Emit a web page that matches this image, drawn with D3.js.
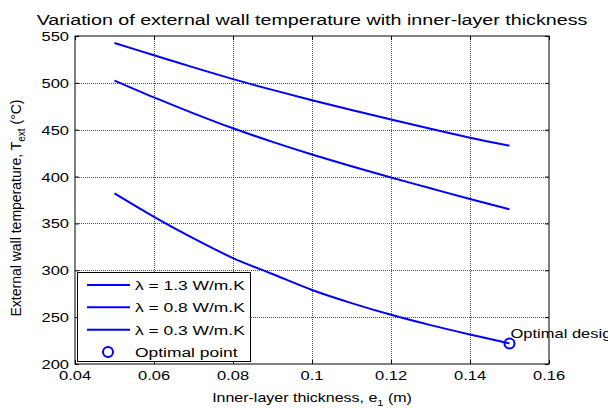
<!DOCTYPE html>
<html>
<head>
<meta charset="utf-8">
<script src="https://cdn.jsdelivr.net/npm/d3@7"></script>
<style>
  body { margin: 0; background: #fff; }
  svg text { font-family: "Liberation Sans", Arial, sans-serif; fill: #000; }
</style>
</head>
<body>
<div id="graph"></div>
<script>
// thickness e1 (m)
var thickness = [0.05, 0.06, 0.07, 0.08, 0.09, 0.10, 0.11, 0.12, 0.13, 0.14, 0.15]

// external wall temperature (°C) per conductivity
var tLambda13 = [542.5, 529.5, 516.5, 504, 492.5, 481.5, 471, 461, 451, 441.5, 433]
var tLambda08 = [502.5, 484.5, 467.5, 451.5, 437, 423.5, 411, 399, 387.5, 376, 365]
var tLambda03 = [382, 357, 334, 313, 296, 279, 265, 252.5, 241.5, 231.5, 222]

var seriesNames = ['λ = 1.3 W/m.K', 'λ = 0.8 W/m.K', 'λ = 0.3 W/m.K']
var optimal = {e: 0.15, t: 222, label: 'Optimal design', legend: 'Optimal point'}

var xTicks = [0.04, 0.06, 0.08, 0.1, 0.12, 0.14, 0.16]
var yTicks = [200, 250, 300, 350, 400, 450, 500, 550]

var W = 608, H = 408
var m = {left: 75, right: 59, top: 36, bottom: 44}
var sx = 1.27 // the picture is stretched sideways, text too

var svg = d3.select('#graph').append('svg')
  .attr('width', W).attr('height', H)

var x = d3.scaleLinear().domain([0.04, 0.16]).range([m.left, W - m.right])
var y = d3.scaleLinear().domain([200, 550]).range([H - m.bottom, m.top])

var blue = '#0000ff'

// stretched text helper
function label(g, px, py, size, anchor, scale){
  return g.append('g').attr('transform', `translate(${px},${py}) scale(${scale || sx},1)`)
    .append('text').attr('text-anchor', anchor || 'start').style('font-size', size + 'px')
}

// grid
var grid = svg.append('g')
grid.selectAll('line.gx').data(xTicks.slice(1, -1)).join('line')
  .attr('x1', d => Math.round(x(d)) + 0.5).attr('x2', d => Math.round(x(d)) + 0.5)
  .attr('y1', y(200)).attr('y2', y(550))
grid.selectAll('line.gy').data(yTicks.slice(1, -1)).join('line')
  .attr('y1', d => Math.round(y(d)) + 0.5).attr('y2', d => Math.round(y(d)) + 0.5)
  .attr('x1', x(0.04)).attr('x2', x(0.16))
grid.selectAll('line')
  .attr('stroke', '#555').attr('stroke-width', 1).attr('stroke-dasharray', '1,1')

// axes with inward ticks, labels drawn separately so they can be stretched
var bottom = svg.append('g').attr('transform', `translate(0,${y(200)})`)
  .call(d3.axisBottom(x).tickValues(xTicks).tickSizeInner(-4).tickSizeOuter(0).tickFormat(''))
var top = svg.append('g').attr('transform', `translate(0,${y(550)})`)
  .call(d3.axisTop(x).tickValues(xTicks).tickSizeInner(-4).tickSizeOuter(0).tickFormat(''))
var left = svg.append('g').attr('transform', `translate(${x(0.04)},0)`)
  .call(d3.axisLeft(y).tickValues(yTicks).tickSizeInner(-4).tickSizeOuter(0).tickFormat(''))
var right = svg.append('g').attr('transform', `translate(${x(0.16)},0)`)
  .call(d3.axisRight(y).tickValues(yTicks).tickSizeInner(-4).tickSizeOuter(0).tickFormat(''))

svg.selectAll('.domain').remove()
svg.selectAll('.tick line').attr('stroke', '#000')

xTicks.forEach(d => label(svg, x(d), y(200) + 16, 13, 'middle').text(+d.toFixed(2)))
yTicks.forEach(d => label(svg, x(0.04) - 6, y(d) + 5, 13, 'end').text(d))

svg.append('rect')
  .attr('x', x(0.04)).attr('y', y(550))
  .attr('width', x(0.16) - x(0.04)).attr('height', y(200) - y(550))
  .attr('fill', 'none').attr('stroke', '#000').attr('stroke-width', 1)

// curves
var line = d3.line()
  .x((d, i) => x(thickness[i]))
  .y(d => y(d))
  .curve(d3.curveMonotoneX)

svg.selectAll('path.curve').data([tLambda13, tLambda08, tLambda03]).join('path')
  .attr('class', 'curve')
  .attr('d', line)
  .attr('fill', 'none').attr('stroke', blue).attr('stroke-width', 2)

// optimal point
svg.append('circle')
  .attr('cx', x(optimal.e)).attr('cy', y(optimal.t)).attr('r', 5)
  .attr('fill', 'none').attr('stroke', blue).attr('stroke-width', 2)
label(svg, x(optimal.e) + 1, y(optimal.t) - 5, 13).text(optimal.label)

// legend
var lg = svg.append('g')
lg.append('rect')
  .attr('x', 77.5).attr('y', 272.5).attr('width', 173).attr('height', 89)
  .attr('fill', '#fff').attr('stroke', '#000').attr('stroke-width', 1)
var rows = seriesNames.concat([optimal.legend])
var rowY = d3.scalePoint().domain(d3.range(rows.length)).range([285, 352])
rows.forEach((name, i) => {
  var ry = rowY(i)
  if (i < 3) {
    lg.append('line').attr('x1', 87).attr('x2', 130).attr('y1', ry).attr('y2', ry)
      .attr('stroke', blue).attr('stroke-width', 2)
  } else {
    lg.append('circle').attr('cx', 108).attr('cy', ry).attr('r', 5)
      .attr('fill', 'none').attr('stroke', blue).attr('stroke-width', 2)
  }
  label(lg, 135, ry + 5, 13.5, 'start', 1.29).text(name)
})

// title and labels
label(svg, (x(0.04) + x(0.16)) / 2, 25, 15.5, 'middle', 1.27)
  .text('Variation of external wall temperature with inner-layer thickness')

var xl = label(svg, (x(0.04) + x(0.16)) / 2, 402, 13, 'middle', 1.23)
xl.append('tspan').text('Inner-layer thickness, e')
xl.append('tspan').attr('dy', 4).style('font-size', '9px').text('1')
xl.append('tspan').attr('dy', -4).text(' (m)')

var yl = svg.append('text')
  .attr('transform', `translate(21,${(y(200) + y(550)) / 2 + 8}) rotate(-90)`)
  .attr('text-anchor', 'middle').style('font-size', '14px')
yl.append('tspan').text('External wall temperature, T')
yl.append('tspan').attr('dy', 4).style('font-size', '10px').text('ext')
yl.append('tspan').attr('dy', -4).text(' (°C)')
</script>
</body>
</html>
